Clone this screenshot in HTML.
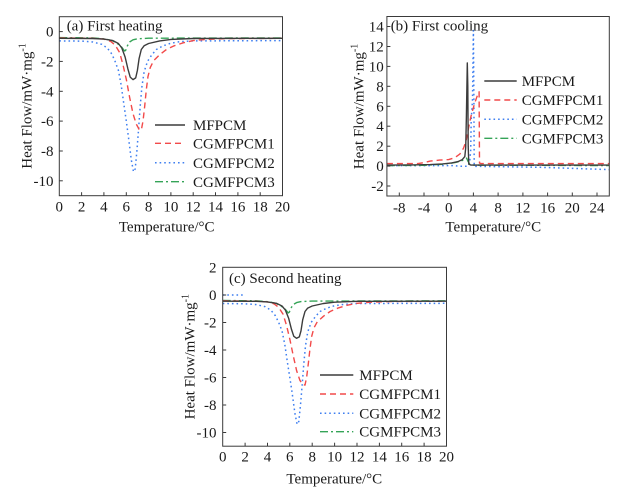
<!DOCTYPE html>
<html>
<head>
<meta charset="utf-8">
<style>
html,body{margin:0;padding:0;background:#fff;}
svg{display:block;}
text{font-family:"Liberation Serif","Times New Roman",serif;fill:#1a1a1a;}
.frame{fill:none;stroke:#3a3a3a;stroke-width:1;}
.tick{stroke:#3a3a3a;stroke-width:1;}
.k{fill:none;stroke:#3c3c3c;stroke-width:1.4;stroke-linejoin:round;}
.r{fill:none;stroke:#f24a4a;stroke-width:1.4;stroke-dasharray:6,4;stroke-linejoin:round;}
.b{fill:none;stroke:#3f7ff0;stroke-width:1.5;stroke-dasharray:1.6,3;stroke-linejoin:round;}
.g{fill:none;stroke:#35a457;stroke-width:1.4;stroke-dasharray:8,3,2,3;stroke-linejoin:round;}
</style>
</head>
<body>
<svg width="629" height="499" viewBox="0 0 629 499" xmlns="http://www.w3.org/2000/svg">
<rect width="629" height="499" fill="#fff"/>

<!-- ================= Panel (a) ================= -->
<g>
<!-- curves -->
<path class="g" d="M59.3,37.6 L92.8,37.9 L106.2,39.1 L112.9,40.9 L118.4,44.3 L121.8,47.3 L124.6,51.0 L125.7,50.3 L127.4,45.8 L129.6,42.0 L133.0,39.8 L137.4,38.8 L148.6,38.2 L282.5,37.9"/>
<path class="b" d="M59.3,40.9 L81.6,41.1 L92.8,42.0 L101.7,44.3 L107.3,48.0 L111.8,54.0 L115.1,61.4 L118.4,70.4 L121.2,85.3 L123.5,101.7 L126.3,121.1 L128.5,137.5 L131.3,159.9 L133.5,171.8 L135.2,168.9 L136.9,151.0 L138.5,130.1 L140.2,106.2 L141.9,86.8 L144.1,71.9 L147.5,61.4 L151.9,54.7 L156.4,49.5 L163.1,45.8 L170.9,43.2 L179.8,41.7 L193.2,40.9 L282.5,40.6"/>
<path class="r" d="M59.3,37.9 L92.8,38.3 L103.9,39.1 L110.6,41.3 L115.1,45.0 L119.6,52.5 L122.9,64.4 L126.3,79.3 L129.6,97.2 L133.0,113.7 L136.3,124.1 L139.1,129.3 L141.3,130.1 L143.0,121.1 L144.7,106.2 L146.3,89.8 L148.0,76.4 L150.3,67.4 L153.6,60.7 L159.7,54.7 L166.4,49.5 L174.2,45.8 L183.2,42.8 L193.2,40.6 L206.6,39.4 L226.7,38.6 L282.5,38.3"/>
<path class="k" d="M59.3,38.3 L92.8,38.5 L103.9,39.1 L112.9,40.6 L118.4,43.5 L121.8,48.0 L125.1,57.0 L127.9,68.9 L130.2,77.1 L133.0,79.6 L135.7,77.9 L137.4,70.4 L139.1,58.5 L141.3,49.5 L144.1,45.8 L148.6,43.5 L159.7,40.9 L170.9,39.4 L193.2,38.5 L282.5,38.3"/>
<!-- frame -->
<rect class="frame" x="59.3" y="16.7" width="223.2" height="179"/>
<!-- x ticks -->
<g class="tick">
<line x1="81.6" y1="195.7" x2="81.6" y2="192.2"/><line x1="103.9" y1="195.7" x2="103.9" y2="192.2"/>
<line x1="126.3" y1="195.7" x2="126.3" y2="192.2"/><line x1="148.6" y1="195.7" x2="148.6" y2="192.2"/>
<line x1="170.9" y1="195.7" x2="170.9" y2="192.2"/><line x1="193.2" y1="195.7" x2="193.2" y2="192.2"/>
<line x1="215.5" y1="195.7" x2="215.5" y2="192.2"/><line x1="237.9" y1="195.7" x2="237.9" y2="192.2"/>
<line x1="260.2" y1="195.7" x2="260.2" y2="192.2"/>
<line x1="59.3" y1="31.6" x2="62.8" y2="31.6"/><line x1="59.3" y1="61.4" x2="62.8" y2="61.4"/>
<line x1="59.3" y1="91.3" x2="62.8" y2="91.3"/><line x1="59.3" y1="121.1" x2="62.8" y2="121.1"/>
<line x1="59.3" y1="151.0" x2="62.8" y2="151.0"/><line x1="59.3" y1="180.8" x2="62.8" y2="180.8"/>
</g>
<g font-size="15" text-anchor="middle">
<text x="59.3" y="211.5">0</text><text x="81.6" y="211.5">2</text><text x="103.9" y="211.5">4</text>
<text x="126.3" y="211.5">6</text><text x="148.6" y="211.5">8</text><text x="170.9" y="211.5">10</text>
<text x="193.2" y="211.5">12</text><text x="215.5" y="211.5">14</text><text x="237.9" y="211.5">16</text>
<text x="260.2" y="211.5">18</text><text x="282.5" y="211.5">20</text>
</g>
<g font-size="15" text-anchor="end">
<text x="53.5" y="36.6">0</text><text x="53.5" y="66.4">-2</text><text x="53.5" y="96.3">-4</text>
<text x="53.5" y="126.1">-6</text><text x="53.5" y="156.0">-8</text><text x="53.5" y="185.8">-10</text>
</g>
<text x="166.7" y="231.5" font-size="15" text-anchor="middle">Temperature/°C</text>
<text transform="translate(31.5,106) rotate(-90)" font-size="15" text-anchor="middle">Heat Flow/mW·mg<tspan font-size="10" dy="-6">-1</tspan></text>
<text x="66.7" y="30.5" font-size="15">(a) First heating</text>
<!-- legend -->
<line class="k" x1="155" y1="125" x2="185" y2="125"/>
<line class="r" x1="155" y1="143.3" x2="185" y2="143.3"/>
<line class="b" x1="155" y1="162.7" x2="185" y2="162.7"/>
<line class="g" x1="155" y1="181.7" x2="185" y2="181.7"/>
<g font-size="15">
<text x="193" y="130">MFPCM</text>
<text x="193" y="148.5">CGMFPCM1</text>
<text x="193" y="167.8">CGMFPCM2</text>
<text x="193" y="186.8">CGMFPCM3</text>
</g>
</g>

<!-- ================= Panel (b) ================= -->
<g>
<path class="b" d="M386.9,165.6 L455,165.6 L458,166.2 L468,166.3 L469.7,162 L470.7,150 L471.2,120 L472.5,100 L473.4,30.5 L473.9,100 L474.2,166.3 L540,167.3 L609.3,169.6"/>
<path class="g" d="M386.9,165.6 L424.0,165.3 L442.5,164.3 L454.9,162.6 L461.1,161.1 L464.8,159.1 L466.6,158.1 L467.9,161.1 L469.7,164.1 L473.4,165.1 L609.3,165.6"/>
<path class="r" d="M386.9,163.6 L418.0,163.6 L424.0,162.6 L430.2,161.1 L439.5,160.1 L448.7,159.6 L454.9,157.6 L459.8,154.1 L463.5,148.2 L466.0,141.2 L468.5,128.2 L471.0,116.2 L474.6,103.3 L477.1,96.3 L479.1,91.8 L479.5,163.1 L481,163.6 L609.3,163.6"/>
<path class="k" d="M386.9,165.1 L411.6,164.9 L430.2,164.6 L442.5,163.9 L451.8,162.9 L458.0,161.6 L462.3,159.6 L464.8,156.6 L465.7,148.1 L466.4,116.2 L467.3,63.0 L467.8,86.3 L468.2,146.2 L468.8,164.1 L471.0,165.1 L609.3,165.1"/>
<rect class="frame" x="386.9" y="16.5" width="222.4" height="179.5"/>
<g class="tick">
<line x1="399.3" y1="196" x2="399.3" y2="192.5"/><line x1="424.0" y1="196" x2="424.0" y2="192.5"/>
<line x1="448.7" y1="196" x2="448.7" y2="192.5"/><line x1="473.4" y1="196" x2="473.4" y2="192.5"/>
<line x1="498.1" y1="196" x2="498.1" y2="192.5"/><line x1="522.9" y1="196" x2="522.9" y2="192.5"/>
<line x1="547.6" y1="196" x2="547.6" y2="192.5"/><line x1="572.3" y1="196" x2="572.3" y2="192.5"/>
<line x1="597.0" y1="196" x2="597.0" y2="192.5"/>
<line x1="386.9" y1="26.5" x2="390.4" y2="26.5"/><line x1="386.9" y1="46.5" x2="390.4" y2="46.5"/>
<line x1="386.9" y1="66.4" x2="390.4" y2="66.4"/><line x1="386.9" y1="86.3" x2="390.4" y2="86.3"/>
<line x1="386.9" y1="106.3" x2="390.4" y2="106.3"/><line x1="386.9" y1="126.2" x2="390.4" y2="126.2"/>
<line x1="386.9" y1="146.2" x2="390.4" y2="146.2"/><line x1="386.9" y1="166.1" x2="390.4" y2="166.1"/>
<line x1="386.9" y1="186.0" x2="390.4" y2="186.0"/>
</g>
<g font-size="15" text-anchor="middle">
<text x="399.3" y="212.5">-8</text><text x="424.0" y="212.5">-4</text><text x="448.7" y="212.5">0</text>
<text x="473.4" y="212.5">4</text><text x="498.1" y="212.5">8</text><text x="522.9" y="212.5">12</text>
<text x="547.6" y="212.5">16</text><text x="572.3" y="212.5">20</text><text x="597.0" y="212.5">24</text>
</g>
<g font-size="15" text-anchor="end">
<text x="383.8" y="31.5">14</text><text x="383.8" y="51.5">12</text><text x="383.8" y="71.4">10</text>
<text x="383.8" y="91.3">8</text><text x="383.8" y="111.3">6</text><text x="383.8" y="131.2">4</text>
<text x="383.8" y="151.2">2</text><text x="383.8" y="171.1">0</text><text x="383.8" y="191.0">-2</text>
</g>
<text x="493.3" y="231.5" font-size="15" text-anchor="middle">Temperature/°C</text>
<text transform="translate(363.3,106.5) rotate(-90)" font-size="15" text-anchor="middle">Heat Flow/mW·mg<tspan font-size="10" dy="-6">-1</tspan></text>
<text x="390.7" y="30.5" font-size="15">(b) First cooling</text>
<line class="k" x1="484.3" y1="81" x2="516.7" y2="81"/>
<line class="r" x1="484.3" y1="100" x2="516.7" y2="100"/>
<line class="b" x1="484.3" y1="119.3" x2="516.7" y2="119.3"/>
<line class="g" x1="484.3" y1="138.3" x2="516.7" y2="138.3"/>
<g font-size="15">
<text x="521.7" y="86">MFPCM</text>
<text x="521.7" y="105">CGMFPCM1</text>
<text x="521.7" y="124.3">CGMFPCM2</text>
<text x="521.7" y="143.3">CGMFPCM3</text>
</g>
</g>

<!-- ================= Panel (c) ================= -->
<g>
<path class="b" d="M222.7,295 L245.1,295"/>
<path class="g" d="M222.7,300.5 L256.3,300.8 L269.7,301.9 L276.4,303.5 L282.0,306.7 L285.4,309.4 L288.2,312.9 L289.3,312.2 L291.0,308.1 L293.2,304.6 L296.6,302.6 L301.0,301.6 L312.2,301.1 L446.5,300.8"/>
<path class="b" d="M222.7,303.5 L245.1,303.8 L256.3,304.6 L265.2,306.7 L270.8,310.1 L275.3,315.6 L278.7,322.5 L282.0,330.8 L284.8,344.5 L287.0,359.6 L289.8,377.5 L292.1,392.6 L294.9,413.3 L297.1,424.3 L298.8,421.5 L300.5,405.0 L302.1,385.8 L303.8,363.8 L305.5,345.9 L307.7,332.1 L311.1,322.5 L315.6,316.3 L320.1,311.5 L326.8,308.1 L334.6,305.7 L343.6,304.4 L357.0,303.5 L446.5,303.3"/>
<path class="r" d="M222.7,300.8 L256.3,301.2 L267.5,301.9 L274.2,303.9 L278.7,307.4 L283.1,314.3 L286.5,325.3 L289.8,339.0 L293.2,355.5 L296.6,370.6 L299.9,380.3 L302.7,384.4 L305.0,385.1 L306.6,377.5 L308.3,363.8 L310.0,348.6 L311.7,336.3 L313.9,328.0 L317.3,321.8 L323.4,316.3 L330.1,311.5 L337.9,308.1 L346.9,305.3 L357.0,303.3 L370.4,302.2 L390.6,301.5 L446.5,301.2"/>
<path class="k" d="M222.7,301.2 L256.3,301.3 L267.5,301.9 L276.4,303.3 L282.0,306.0 L285.4,310.1 L288.7,318.4 L291.5,329.4 L293.8,336.3 L296.6,338.3 L299.3,336.9 L301.0,330.8 L302.7,319.8 L305.0,311.5 L307.7,308.1 L312.2,306.0 L323.4,303.5 L334.6,302.2 L357.0,301.3 L446.5,301.2"/>
<rect class="frame" x="222.7" y="267.3" width="223.8" height="178.9"/>
<g class="tick">
<line x1="245.1" y1="446.2" x2="245.1" y2="442.7"/><line x1="267.5" y1="446.2" x2="267.5" y2="442.7"/>
<line x1="289.8" y1="446.2" x2="289.8" y2="442.7"/><line x1="312.2" y1="446.2" x2="312.2" y2="442.7"/>
<line x1="334.6" y1="446.2" x2="334.6" y2="442.7"/><line x1="357.0" y1="446.2" x2="357.0" y2="442.7"/>
<line x1="379.4" y1="446.2" x2="379.4" y2="442.7"/><line x1="401.7" y1="446.2" x2="401.7" y2="442.7"/>
<line x1="424.1" y1="446.2" x2="424.1" y2="442.7"/>
<line x1="222.7" y1="295" x2="226.2" y2="295"/><line x1="222.7" y1="322.5" x2="226.2" y2="322.5"/>
<line x1="222.7" y1="350" x2="226.2" y2="350"/><line x1="222.7" y1="377.5" x2="226.2" y2="377.5"/>
<line x1="222.7" y1="405" x2="226.2" y2="405"/><line x1="222.7" y1="432.5" x2="226.2" y2="432.5"/>
</g>
<g font-size="15" text-anchor="middle">
<text x="222.7" y="461.5">0</text><text x="245.1" y="461.5">2</text><text x="267.5" y="461.5">4</text>
<text x="289.8" y="461.5">6</text><text x="312.2" y="461.5">8</text><text x="334.6" y="461.5">10</text>
<text x="357.0" y="461.5">12</text><text x="379.4" y="461.5">14</text><text x="401.7" y="461.5">16</text>
<text x="424.1" y="461.5">18</text><text x="446.5" y="461.5">20</text>
</g>
<g font-size="15" text-anchor="end">
<text x="216.5" y="272.5">2</text><text x="216.5" y="300">0</text><text x="216.5" y="327.5">-2</text>
<text x="216.5" y="355">-4</text><text x="216.5" y="382.5">-6</text><text x="216.5" y="410">-8</text>
<text x="216.5" y="437.5">-10</text>
</g>
<text x="334.3" y="483.3" font-size="15" text-anchor="middle">Temperature/°C</text>
<text transform="translate(194.3,356.7) rotate(-90)" font-size="15" text-anchor="middle">Heat Flow/mW·mg<tspan font-size="10" dy="-6">-1</tspan></text>
<text x="229" y="283" font-size="15">(c) Second heating</text>
<line class="k" x1="320" y1="375" x2="353.3" y2="375"/>
<line class="r" x1="320" y1="394" x2="353.3" y2="394"/>
<line class="b" x1="320" y1="413.3" x2="353.3" y2="413.3"/>
<line class="g" x1="320" y1="431.7" x2="353.3" y2="431.7"/>
<g font-size="15">
<text x="359.3" y="380">MFPCM</text>
<text x="359.3" y="399">CGMFPCM1</text>
<text x="359.3" y="418.3">CGMFPCM2</text>
<text x="359.3" y="436.7">CGMFPCM3</text>
</g>
</g>
</svg>
</body>
</html>
